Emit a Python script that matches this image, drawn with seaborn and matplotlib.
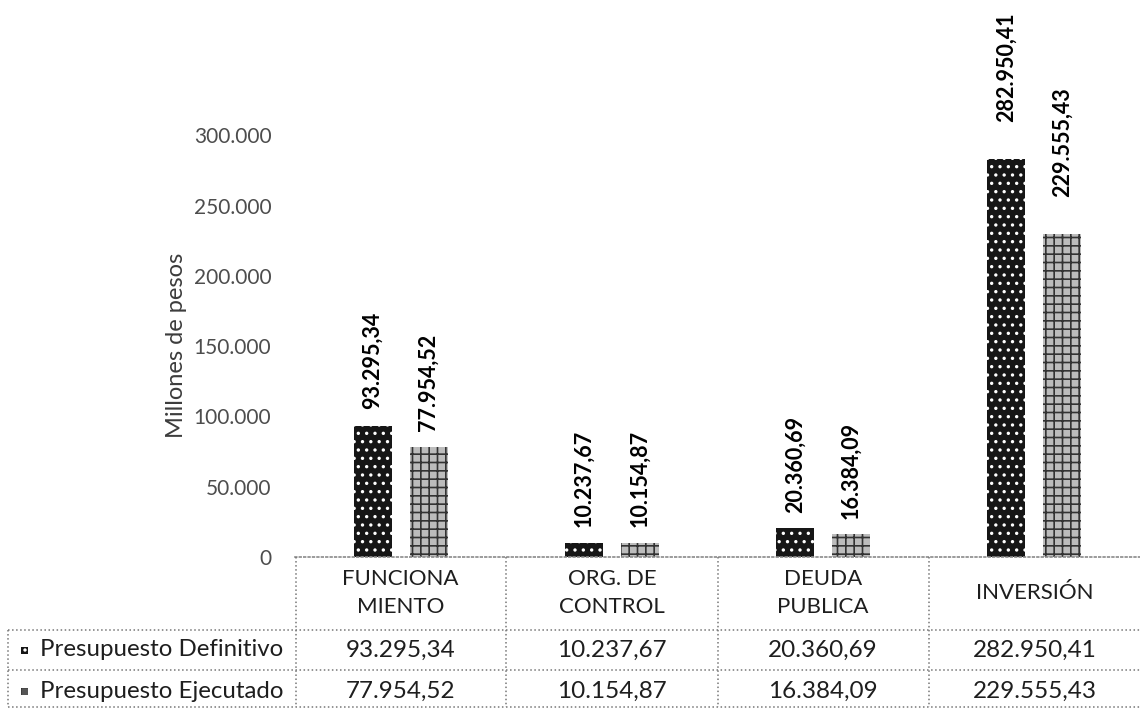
import matplotlib
matplotlib.use("Agg")
import matplotlib.pyplot as plt
import matplotlib.transforms as mtransforms
from matplotlib.lines import Line2D
from matplotlib.patches import Rectangle
import pandas as pd
import seaborn as sns

categorias = ["FUNCIONA\nMIENTO", "ORG. DE\nCONTROL", "DEUDA\nPUBLICA", "INVERSIÓN"]
series = ["Presupuesto Definitivo", "Presupuesto Ejecutado"]
definitivo = [93295.34, 10237.67, 20360.69, 282950.41]
ejecutado = [77954.52, 10154.87, 16384.09, 229555.43]
y_ticks = [0, 50000, 100000, 150000, 200000, 250000, 300000]


def fmt_es(v, dec=2):
    s = f"{v:,.{dec}f}"
    return s.replace(",", "#").replace(".", ",").replace("#", ".")


df = pd.DataFrame({
    "cat": categorias * 2,
    "serie": [series[0]] * 4 + [series[1]] * 4,
    "valor": definitivo + ejecutado,
})

sns.set_style("white")
plt.rcParams["font.family"] = ["Lato", "DejaVu Sans"]
plt.rcParams["hatch.linewidth"] = 1.2

W, H = 1140, 708
fig = plt.figure(figsize=(W / 100, H / 100), dpi=100)
ax = fig.add_axes([295 / W, 1 - 557 / H, (1140 - 295) / W, 492 / H])

sns.barplot(data=df, x="cat", y="valor", hue="serie", order=categorias,
            hue_order=series, palette=["#161616", "#bdbdbd"], width=0.53,
            gap=0.32, linewidth=0, saturation=1, legend=False, ax=ax)

# patterned fills like the scanned original
estilos = [("#161616", "white", ".."), ("#bcbcbc", "#333333", "++")]
for i, cont in enumerate(ax.containers):
    fc, ec, hatch = estilos[i]
    for bar in cont:
        bar.set_facecolor(fc)
        bar.set_edgecolor(ec)
        bar.set_hatch(hatch)
        bar.set_linewidth(0)

# value labels, rotated, above each bar
gap_pts = [12, 11, 11, 27]
for i, cont in enumerate(ax.containers):
    vals = definitivo if i == 0 else ejecutado
    for j, bar in enumerate(cont):
        ax.annotate(fmt_es(vals[j]), (bar.get_x() + bar.get_width() / 2, bar.get_height()),
                    xytext=(0, gap_pts[j]), textcoords="offset points",
                    rotation=90, ha="center", va="bottom", fontsize=15.5,
                    fontweight="bold", color="black", annotation_clip=False)

ax.set_xlim(-0.5, 3.5)
ax.set_ylim(0, 350000)
ax.set_yticks(y_ticks)
ax.set_yticklabels([fmt_es(v, 0) for v in y_ticks], fontsize=15, color="#4d4d4d")
ax.set_xticks([])
ax.set_xlabel("")
ax.set_ylabel("Millones de pesos", fontsize=17, color="#3c3c3c")
ax.yaxis.set_label_coords(-0.128, 0.431)
ax.tick_params(axis="y", length=0, pad=17)
for s in ["top", "right", "left"]:
    ax.spines[s].set_visible(False)
ax.spines["bottom"].set_color("#8a8a8a")
ax.spines["bottom"].set_linestyle(":")
ax.spines["bottom"].set_linewidth(1.2)

# data table under the chart
bt = mtransforms.blended_transform_factory(ax.transData, fig.transFigure)
fy = lambda py: 1 - py / H
fx = lambda px: px / W
line_kw = dict(color="#777777", linestyle=":", linewidth=1.1)

for py in [630, 670, 707]:
    fig.add_artist(Line2D([fx(8), fx(1140)], [fy(py), fy(py)], **line_kw))
fig.add_artist(Line2D([fx(8), fx(8)], [fy(630), fy(707)], **line_kw))
fig.add_artist(Line2D([fx(296), fx(296)], [fy(557), fy(707)], **line_kw))
for k in range(1, len(categorias)):
    fig.add_artist(Line2D([k - 0.5, k - 0.5], [fy(557), fy(707)], transform=bt, **line_kw))

for j, c in enumerate(categorias):
    fig.text(j, fy(593), c, transform=bt, ha="center", va="center",
             fontsize=16, color="#1e1e1e", linespacing=1.45)
    fig.text(j, fy(650), fmt_es(definitivo[j]), transform=bt, ha="center",
             va="center", fontsize=17.5, color="#1e1e1e")
    fig.text(j, fy(691), fmt_es(ejecutado[j]), transform=bt, ha="center",
             va="center", fontsize=17.5, color="#1e1e1e")

for r, (py, nombre) in enumerate([(650, series[0]), (691, series[1])]):
    fc, ec, hatch = estilos[r]
    key = Rectangle((fx(21), fy(py + 4)), fx(7), 7 / H, transform=fig.transFigure,
                    facecolor=fc if r == 0 else "#555555", edgecolor=ec,
                    hatch=hatch, linewidth=0)
    fig.add_artist(key)
    fig.text(fx(40), fy(py), nombre, ha="left", va="center", fontsize=17.3,
             color="#1e1e1e")

fig.savefig("out.png", dpi=100)
